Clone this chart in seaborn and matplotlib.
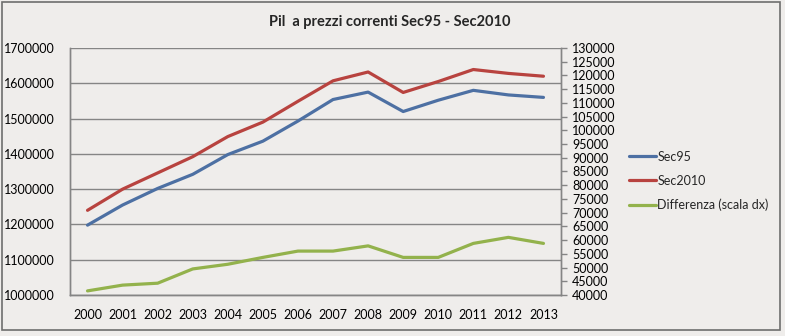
import matplotlib
matplotlib.use("Agg")
import matplotlib.pyplot as plt
import seaborn as sns
import pandas as pd
from matplotlib.patches import Rectangle

years = ["2000", "2001", "2002", "2003", "2004", "2005", "2006",
         "2007", "2008", "2009", "2010", "2011", "2012", "2013"]
sec95 = [1198000, 1255000, 1302000, 1342000, 1398000, 1436000, 1493000,
         1554000, 1575000, 1520000, 1552000, 1580000, 1567000, 1560000]
sec2010 = [1240000, 1300000, 1346000, 1392000, 1449000, 1490000, 1549000,
           1607000, 1632000, 1574000, 1605000, 1639000, 1628000, 1620000]
differenza = [41500, 43600, 44300, 49500, 51200, 53700, 56000,
              56000, 57900, 53700, 53700, 58800, 61000, 58800]

left_ticks = [1000000, 1100000, 1200000, 1300000, 1400000, 1500000, 1600000, 1700000]
right_ticks = list(range(40000, 130001, 5000))

sns.set_theme(style="white")
plt.rcParams["font.family"] = ["Lato", "DejaVu Sans"]

bg = "#efedeb"
grid_c = "#858585"
c_blue = "#4d70a3"
c_red = "#b8433f"
c_green = "#93b24c"

df = pd.DataFrame({"idx": range(len(years)), "Sec95": sec95,
                   "Sec2010": sec2010, "Differenza": differenza})

fig = plt.figure(figsize=(7.85, 3.36), dpi=100, facecolor=bg)
ax = fig.add_axes([70/785, 1-295/336, (561-70)/785, (295-48)/336])
ax.set_facecolor(bg)
ax2 = ax.twinx()

sns.lineplot(data=df, x="idx", y="Sec95", ax=ax, color=c_blue, lw=2.3, label="Sec95", legend=False)
sns.lineplot(data=df, x="idx", y="Sec2010", ax=ax, color=c_red, lw=2.3, label="Sec2010", legend=False)
sns.lineplot(data=df, x="idx", y="Differenza", ax=ax2, color=c_green, lw=2.3,
             label="Differenza (scala dx)", legend=False)

ax.set_xlim(-0.5, len(years) - 0.5)
ax.set_ylim(1000000, 1700000)
ax2.set_ylim(40000, 130000)
ax.set_xticks(range(len(years)))
ax.set_xticklabels(years)
ax.set_yticks(left_ticks)
ax.set_yticklabels([str(v) for v in left_ticks])
ax2.set_yticks(right_ticks)
ax2.set_yticklabels([str(v) for v in right_ticks])
ax.set_xlabel("")
ax.set_ylabel("")
ax2.set_ylabel("")

for y in left_ticks:
    ax.axhline(y, color=grid_c, lw=1.0, zorder=0)

for a in (ax, ax2):
    for s in a.spines.values():
        s.set_color(grid_c)
        s.set_linewidth(1.0)
ax.spines["top"].set_visible(False)
ax2.spines["top"].set_visible(False)

ax.tick_params(axis="y", length=0, labelsize=9, pad=11, colors="#000000")
ax.tick_params(axis="x", length=0, labelsize=9, pad=10, colors="#000000")
ax2.tick_params(axis="y", length=4, width=1.0, labelsize=9, pad=4, colors="#000000")
ax2.tick_params(axis="y", color=grid_c)

fig.text(390/785, 1 - 22/336, "Pil  a prezzi correnti Sec95 - Sec2010",
         ha="center", va="center", fontsize=10.5, fontweight="bold")

h1, l1 = ax.get_legend_handles_labels()
h2, l2 = ax2.get_legend_handles_labels()
leg = fig.legend(h1 + h2, l1 + l2, loc="center left",
                 bbox_to_anchor=(618/785, 1 - 181/336), frameon=False,
                 fontsize=9, handlelength=2.1, handletextpad=0.15, labelspacing=0.95)

fig.patches.append(Rectangle((2/785, 1-330/336), 778/785, 328/336, transform=fig.transFigure,
                             fill=False, edgecolor="#6e6e6e", lw=1.2))

fig.savefig("out.png", dpi=100, facecolor=bg)
